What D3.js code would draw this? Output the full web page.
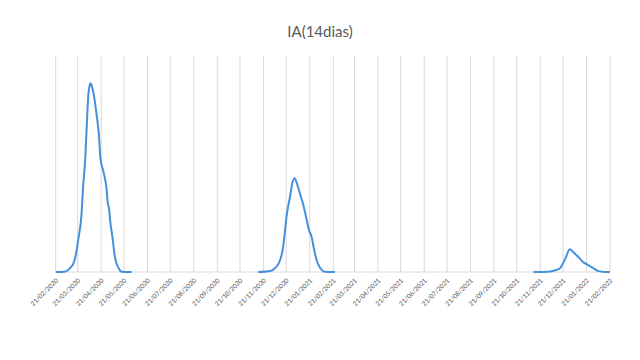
<!DOCTYPE html>
<html>
<head>
<meta charset="utf-8">
<script src="https://cdn.jsdelivr.net/npm/d3@7"></script>
<style>
  body { margin: 0; background: #fff; }
  .grid line { stroke: #d9d9d9; stroke-width: 1; }
  .tick-label { font-family: Lato, "Open Sans", sans-serif; font-size: 6.5px; fill: #595959; }
</style>
</head>
<body>
<div id="chart"></div>
<script>
// IA a 14 dias, three waves (gaps between them are empty cells)
const wave1Dates = ["2020-02-21","2020-03-04","2020-03-11","2020-03-17","2020-03-22","2020-03-26","2020-03-28","2020-03-31","2020-04-02","2020-04-04","2020-04-06","2020-04-07","2020-04-08","2020-04-11","2020-04-15","2020-04-18","2020-04-20","2020-04-24","2020-04-28","2020-04-30","2020-05-01","2020-05-03","2020-05-06","2020-05-09","2020-05-14","2020-05-18","2020-05-31"];
const wave1Values = [0, 2, 21, 67, 187, 317, 465, 632, 817, 983, 1040, 1048, 1040, 990, 872, 761, 632, 557, 465, 372, 363, 279, 187, 85, 21, 2, 0];

const wave2Dates = ["2020-11-14","2020-11-30","2020-12-06","2020-12-13","2020-12-17","2020-12-19","2020-12-22","2020-12-26","2020-12-29","2021-01-01","2021-01-04","2021-01-08","2021-01-12","2021-01-17","2021-01-20","2021-01-24","2021-01-26","2021-01-30","2021-02-04","2021-02-10","2021-02-23"];
const wave2Values = [0, 6, 21, 67, 141, 215, 326, 418, 493, 521, 493, 437, 382, 289, 233, 187, 141, 67, 21, 2, 0];

const wave3Dates = ["2021-11-12","2021-11-25","2021-12-08","2021-12-17","2021-12-21","2021-12-26","2021-12-28","2021-12-30","2022-01-01","2022-01-03","2022-01-10","2022-01-16","2022-01-23","2022-01-30","2022-02-05","2022-02-14","2022-02-21"];
const wave3Values = [0, 0, 6, 21, 48, 94, 116, 126, 122, 113, 85, 57, 39, 21, 6, 0, 0];

const tickDates = ["2020-02-21","2020-03-21","2020-04-21","2020-05-21","2020-06-21","2020-07-21","2020-08-21","2020-09-21","2020-10-21","2020-11-21","2020-12-21","2021-01-21","2021-02-21","2021-03-21","2021-04-21","2021-05-21","2021-06-21","2021-07-21","2021-08-21","2021-09-21","2021-10-21","2021-11-21","2021-12-21","2022-01-21","2022-02-21"];

const width = 640, height = 360;
const plot = { left: 55.7, right: 610, top: 56, bottom: 272 };

const parse = d3.timeParse("%Y-%m-%d");
const fmt = d3.timeFormat("%d/%m/%Y");

const svg = d3.select("#chart").append("svg")
    .attr("width", width)
    .attr("height", height);

const x = d3.scaleTime()
    .domain([parse(tickDates[0]), parse(tickDates[tickDates.length - 1])])
    .range([plot.left, plot.right]);

const y = d3.scaleLinear()
    .domain([0, 1200])
    .range([plot.bottom, plot.top]);

const ticks = tickDates.map(parse);

// vertical gridlines
svg.append("g").attr("class", "grid")
    .selectAll("line")
    .data(ticks)
    .enter().append("line")
    .attr("x1", d => x(d)).attr("x2", d => x(d))
    .attr("y1", plot.top).attr("y2", plot.bottom);

// axis baseline
svg.append("line")
    .attr("x1", plot.left).attr("x2", plot.right)
    .attr("y1", y(0)).attr("y2", y(0))
    .attr("stroke", "#d9d9d9").attr("stroke-width", 1);

// rotated date labels
svg.selectAll("text.tick-label")
    .data(ticks)
    .enter().append("text")
    .attr("class", "tick-label")
    .attr("text-anchor", "end")
    .attr("transform", d => `translate(${x(d) + 3},${plot.bottom + 9}) rotate(-45)`)
    .text(d => fmt(d));

const line = d3.line()
    .x(d => x(d.date))
    .y(d => y(d.value))
    .curve(d3.curveMonotoneX);

[[wave1Dates, wave1Values], [wave2Dates, wave2Values], [wave3Dates, wave3Values]].forEach(([dates, values]) => {
    const pts = dates.map((d, i) => ({ date: parse(d), value: values[i] }));
    svg.append("path")
        .datum(pts)
        .attr("fill", "none")
        .attr("stroke", "#4590dd")
        .attr("stroke-width", 2)
        .attr("stroke-linejoin", "round")
        .attr("d", line);
});

svg.append("text")
    .attr("x", 320)
    .attr("y", 37)
    .attr("text-anchor", "middle")
    .style("font-family", "Lato, 'Open Sans', sans-serif")
    .style("font-size", "15px")
    .style("fill", "#595959")
    .text("IA(14dias)");
</script>
</body>
</html>
